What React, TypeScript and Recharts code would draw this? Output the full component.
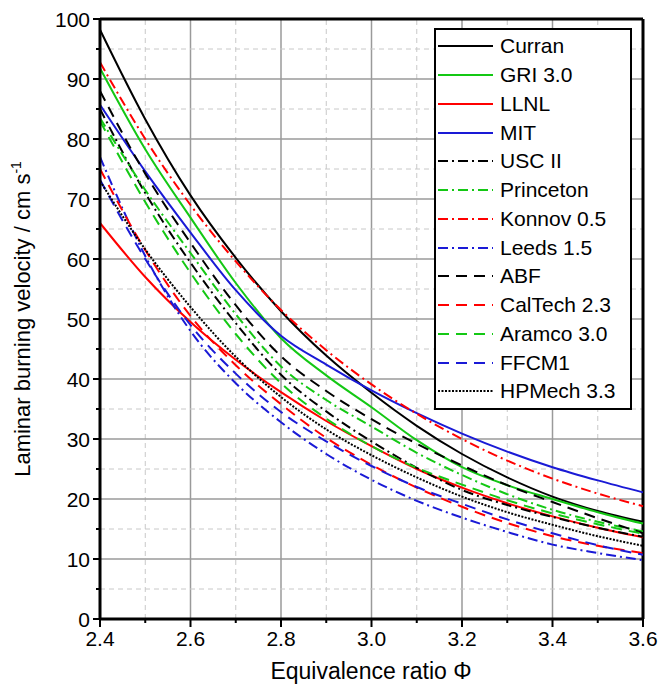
import React from "react";
import { LineChart, Line, XAxis, YAxis, ReferenceLine } from "recharts";

// equivalence ratio
const PHI = [2.4, 2.5, 2.6, 2.7, 2.8, 2.9, 3.0, 3.1, 3.2, 3.3, 3.4, 3.5, 3.6];

// laminar burning velocity, cm/s
const CURRAN = [98.2, 83.3, 70.6, 60.2, 51.3, 43.9, 37.7, 32.2, 27.5, 23.6, 20.4, 18.0, 16.2];
const GRI30 = [91.8, 78.3, 66.9, 56.0, 46.8, 40.6, 35.3, 29.8, 25.3, 22.3, 20.0, 17.8, 15.9];
const LLNL = [66.0, 57.0, 49.5, 43.2, 37.8, 33.0, 28.8, 25.0, 21.9, 19.3, 17.1, 15.2, 13.6];
const MIT = [85.7, 74.6, 64.4, 54.8, 47.2, 42.4, 38.1, 34.3, 30.9, 27.9, 25.3, 23.1, 21.1];
const USC2 = [85.0, 71.0, 59.4, 49.3, 40.7, 34.6, 29.6, 25.2, 21.5, 19.0, 17.0, 15.2, 13.7];
const PRINCETON = [83.5, 71.5, 61.0, 50.8, 42.1, 36.5, 32.1, 27.7, 24.0, 20.8, 18.2, 16.2, 14.6];
const KONNOV = [92.8, 80.0, 69.0, 59.6, 51.5, 44.8, 39.1, 34.2, 30.0, 26.4, 23.4, 20.9, 18.8];
const LEEDS = [77.0, 60.5, 48.0, 39.3, 32.8, 27.5, 23.2, 19.7, 16.9, 14.5, 12.4, 11.0, 9.8];
const ABF = [88.0, 74.2, 62.7, 52.3, 43.8, 38.0, 33.3, 29.2, 25.6, 22.3, 19.5, 16.8, 14.3];
const CALTECH = [75.0, 61.5, 50.5, 42.3, 35.8, 30.2, 25.7, 21.9, 18.7, 16.0, 13.8, 12.2, 11.0];
const ARAMCO = [83.0, 69.5, 57.7, 47.5, 39.3, 33.4, 28.8, 25.2, 22.4, 19.8, 17.6, 15.8, 14.2];
const FFCM1 = [73.2, 60.0, 49.0, 40.9, 34.5, 29.6, 25.5, 22.0, 19.2, 16.6, 14.3, 12.3, 10.7];
const HPMECH = [73.0, 61.6, 52.0, 43.7, 37.0, 31.6, 27.3, 23.6, 20.4, 17.8, 15.7, 13.8, 12.2];

const X_TICKS = [2.4, 2.5, 2.6, 2.7, 2.8, 2.9, 3.0, 3.1, 3.2, 3.3, 3.4, 3.5, 3.6];
const Y_TICKS = [0, 5, 10, 15, 20, 25, 30, 35, 40, 45, 50, 55, 60, 65, 70, 75, 80, 85, 90, 95, 100];

const BLACK = "#000000";
const GREEN = "#14c814";
const RED = "#ff0000";
const BLUE = "#1a1ad6";

const SOLID = undefined;
const DASHDOT = "10 4 2 4";
const DASH = "11 7";
const DOT = "2 1.5";

const SERIES = [
  { key: "curran", name: "Curran", values: CURRAN, color: BLACK, dash: SOLID },
  { key: "gri", name: "GRI 3.0", values: GRI30, color: GREEN, dash: SOLID },
  { key: "llnl", name: "LLNL", values: LLNL, color: RED, dash: SOLID },
  { key: "mit", name: "MIT", values: MIT, color: BLUE, dash: SOLID },
  { key: "usc", name: "USC II", values: USC2, color: BLACK, dash: DASHDOT },
  { key: "princeton", name: "Princeton", values: PRINCETON, color: GREEN, dash: DASHDOT },
  { key: "konnov", name: "Konnov 0.5", values: KONNOV, color: RED, dash: DASHDOT },
  { key: "leeds", name: "Leeds 1.5", values: LEEDS, color: BLUE, dash: DASHDOT },
  { key: "abf", name: "ABF", values: ABF, color: BLACK, dash: DASH },
  { key: "caltech", name: "CalTech 2.3", values: CALTECH, color: RED, dash: DASH },
  { key: "aramco", name: "Aramco 3.0", values: ARAMCO, color: GREEN, dash: DASH },
  { key: "ffcm", name: "FFCM1", values: FFCM1, color: BLUE, dash: DASH },
  { key: "hpmech", name: "HPMech 3.3", values: HPMECH, color: BLACK, dash: DOT },
];

const data = PHI.map((phi, i) => {
  const row: any = { phi };
  SERIES.forEach((s) => {
    row[s.key] = s.values[i];
  });
  return row;
});

const FONT = "'Liberation Sans', Arial, sans-serif";

const XTick = ({ x, y, payload }: any) => {
  const v = payload.value;
  const major = Math.round(v * 10) % 2 === 0;
  return (
    <g>
      <line x1={x} x2={x} y1={y} y2={y + (major ? 8 : 4)} stroke="#000" strokeWidth={2} />
      {major && (
        <text x={x} y={y + 27} textAnchor="middle" fontSize={21} fontFamily={FONT} fill="#000">
          {v.toFixed(1)}
        </text>
      )}
    </g>
  );
};

const YTick = ({ x, y, payload }: any) => {
  const v = payload.value;
  const major = v % 10 === 0;
  return (
    <g>
      <line x1={x} x2={x - (major ? 7 : 4)} y1={y} y2={y} stroke="#000" strokeWidth={2} />
      {major && (
        <text x={x - 10} y={y + 7.5} textAnchor="end" fontSize={21} fontFamily={FONT} fill="#000">
          {v}
        </text>
      )}
    </g>
  );
};

function LegendBox() {
  return (
    <div
      style={{
        position: "absolute",
        left: 434,
        top: 28,
        width: 194,
        height: 376,
        border: "2px solid #000",
        background: "#fff",
        fontFamily: FONT,
        fontSize: 21,
        paddingTop: 2,
      }}
    >
      {SERIES.map((s) => (
        <div key={s.key} style={{ height: 28.75, display: "flex", alignItems: "center" }}>
          <svg width={60} height={10} style={{ marginLeft: 1 }}>
            <line x1={1} x2={56} y1={5} y2={5} stroke={s.color} strokeWidth={2} strokeDasharray={s.dash} />
          </svg>
          <span style={{ marginLeft: 3, color: "#000" }}>{s.name}</span>
        </div>
      ))}
    </div>
  );
}

export default function App() {
  return (
    <div style={{ position: "absolute", left: 0, top: 0, width: 662, height: 691, background: "#fff" }}>
      <LineChart width={662} height={691} data={data} margin={{ top: 19, right: 19, left: 0, bottom: 0 }}>
        {X_TICKS.map((v) => (
          <ReferenceLine
            key={"gx" + v}
            x={v}
            stroke={Math.round(v * 10) % 2 === 0 ? "#9a9a9a" : "#c8c8c8"}
            strokeWidth={Math.round(v * 10) % 2 === 0 ? 1.5 : 1}
            strokeDasharray={Math.round(v * 10) % 2 === 0 ? undefined : "5 4"}
          />
        ))}
        {Y_TICKS.map((v) => (
          <ReferenceLine
            key={"gy" + v}
            y={v}
            stroke={v % 10 === 0 ? "#9a9a9a" : "#c8c8c8"}
            strokeWidth={v % 10 === 0 ? 1.5 : 1}
            strokeDasharray={v % 10 === 0 ? undefined : "5 4"}
          />
        ))}
        <XAxis
          dataKey="phi"
          type="number"
          domain={[2.4, 3.6]}
          ticks={X_TICKS}
          interval={0}
          height={72}
          tickSize={0}
          tickMargin={0}
          tick={<XTick />}
          axisLine={{ stroke: "#000", strokeWidth: 3 }}
          label={{
            content: () => (
              <text x={371} y={679} textAnchor="middle" fontSize={23} fontFamily={FONT} fill="#000">
                Equivalence ratio Φ
              </text>
            ),
          }}
        />
        <YAxis
          type="number"
          domain={[0, 100]}
          ticks={Y_TICKS}
          interval={0}
          width={100}
          tickSize={0}
          tickMargin={0}
          tick={<YTick />}
          axisLine={{ stroke: "#000", strokeWidth: 3 }}
          label={{
            content: () => (
              <text
                x={30}
                y={319}
                transform="rotate(-90 30 319)"
                textAnchor="middle"
                fontSize={22}
                fontFamily={FONT}
                fill="#000"
              >
                Laminar burning velocity / cm s
                <tspan fontSize={14} dy={-9}>-1</tspan>
              </text>
            ),
          }}
        />
        <ReferenceLine x={3.6} stroke="#000" strokeWidth={3} />
        <ReferenceLine y={100} stroke="#000" strokeWidth={3} />
        {SERIES.map((s) => (
          <Line
            key={s.key}
            dataKey={s.key}
            name={s.name}
            type="monotone"
            stroke={s.color}
            strokeWidth={2}
            strokeDasharray={s.dash}
            dot={false}
            activeDot={false}
            isAnimationActive={false}
          />
        ))}
      </LineChart>
      <LegendBox />
    </div>
  );
}
